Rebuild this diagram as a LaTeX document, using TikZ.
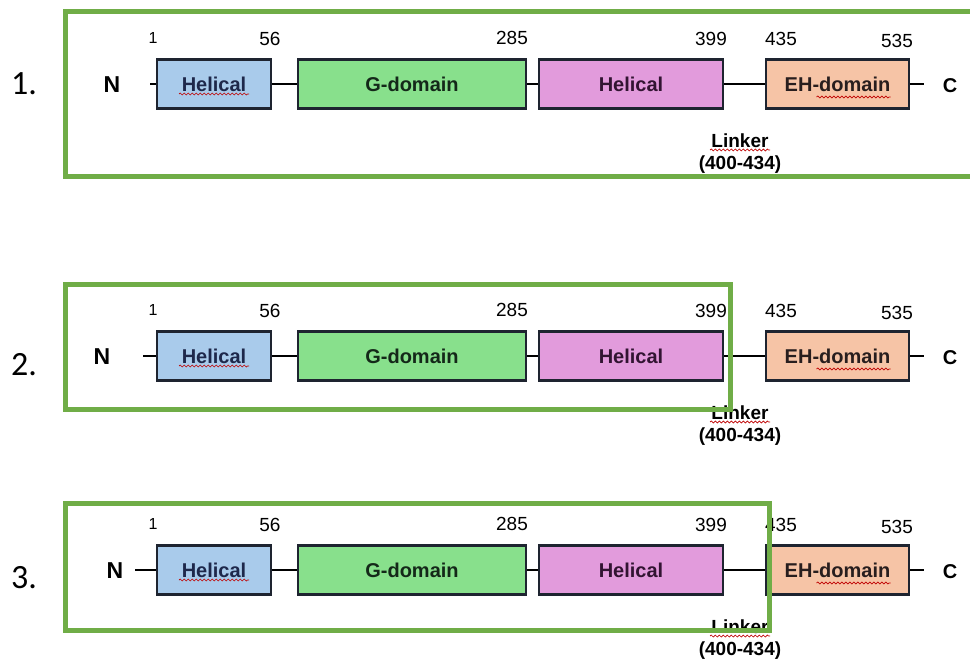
\documentclass[tikz,border=0pt]{standalone}
\usepackage{fontspec}
\setmainfont{Liberation Sans}
\newfontfamily\rowfont{Carlito}
\usetikzlibrary{positioning,decorations.pathmorphing}
\definecolor{helblue}{RGB}{169,203,235}
\definecolor{gdgreen}{RGB}{136,224,140}
\definecolor{helpink}{RGB}{226,155,220}
\definecolor{ehpeach}{RGB}{246,196,166}
\definecolor{selgreen}{RGB}{112,173,71}
\definecolor{boxline}{RGB}{30,36,48}

\begin{document}
\begin{tikzpicture}[x=1pt, y=-1pt,
dombox/.style={rectangle, draw=boxline, line width=2.2pt, minimum height=49pt, inner sep=0pt, font=\fontsize{20}{24}\selectfont\bfseries},
linkline/.style={draw=black, line width=1.7pt},
resnum/.style={font=\fontsize{19}{22}\selectfont, inner sep=0pt},
linklabel/.style={font=\fontsize{19}{22}\selectfont\bfseries, inner sep=0pt},
rowlabel/.style={font=\rowfont\fontsize{34}{38}\selectfont, inner sep=0pt},
squiggle/.style={draw=red!75!black, line width=0.7pt, decorate, decoration={snake, amplitude=1pt, segment length=4pt}},
selbox/.style={draw=selgreen, line width=5pt},
]
\clip (0,0) rectangle (970,663);

\foreach \r/\yy/\ly/\nx/\ns/\ftop/\fbot/\fright in {1/84/84/112/150/12/177/1000, 2/356/365/102/143/285/409/730, 3/570/578/115/135/503/630/769}{
  % domains
  \node[dombox, fill=helblue, text={rgb,255:red,30;green,40;blue,75}, minimum width=114pt] (helA\r) at (214,\yy) {Helical};
  \node[dombox, fill=gdgreen, text={rgb,255:red,20;green,40;blue,25}, minimum width=228pt, right=24.8pt of helA\r] (gdom\r) {G-domain};
  \node[dombox, fill=helpink, text={rgb,255:red,50;green,20;blue,50}, minimum width=184pt, right=10.8pt of gdom\r] (helB\r) {Helical};
  \node[dombox, fill=ehpeach, text={rgb,255:red,40;green,30;blue,30}, minimum width=143pt, right=40.8pt of helB\r] (ehdom\r) {EH-domain};

  % termini
  \node[inner sep=0pt, font=\fontsize{23}{26}\selectfont\bfseries] (nterm\r) at (\nx,\yy+1) {N};
  \node[inner sep=0pt, font=\fontsize{20}{23}\selectfont\bfseries] (cterm\r) at (950,\yy+2) {C};
  \coordinate (nstart\r) at (\ns,\yy);
  \coordinate (cend\r) at (924,\yy);

  \draw[linkline] (nstart\r) -- (helA\r.west);
  \draw[linkline] (helA\r.east) -- (gdom\r.west);
  \draw[linkline] (gdom\r.east) -- (helB\r.west);
  \draw[linkline] (helB\r.east) -- (ehdom\r.west);
  \draw[linkline] (ehdom\r.east) -- (cend\r);

  % residue numbers
  \node[resnum, font=\fontsize{16}{18}\selectfont] (res1\r) at (153,\yy-46) {1};
  \node[resnum] (res56\r) at (270,\yy-45) {56};
  \node[resnum] (res285\r) at (512,\yy-46) {285};
  \node[resnum] (res399\r) at (711,\yy-45) {399};
  \node[resnum] (res435\r) at (781,\yy-45) {435};
  \node[resnum] (res535\r) at (897,\yy-43) {535};

  % linker
  \node[linklabel] (linker\r) at (740,\yy+57) {Linker};
  \node[linklabel] (range\r) at (740,\yy+81) {(400-434)};

  % spell-check marks
  \draw[squiggle] (helA\r.center) ++(-35,10) -- ++(70,0);
  \draw[squiggle] (ehdom\r.center) ++(-21,13) -- ++(74,0);
  \draw[squiggle] (linker\r.center) ++(-30,9) -- ++(60,0);

  \node[rowlabel] (row\r) at (24,\ly) {\r.};
  \draw[selbox] (65,\ftop) rectangle (\fright,\fbot);
}
\end{tikzpicture}
\end{document}
